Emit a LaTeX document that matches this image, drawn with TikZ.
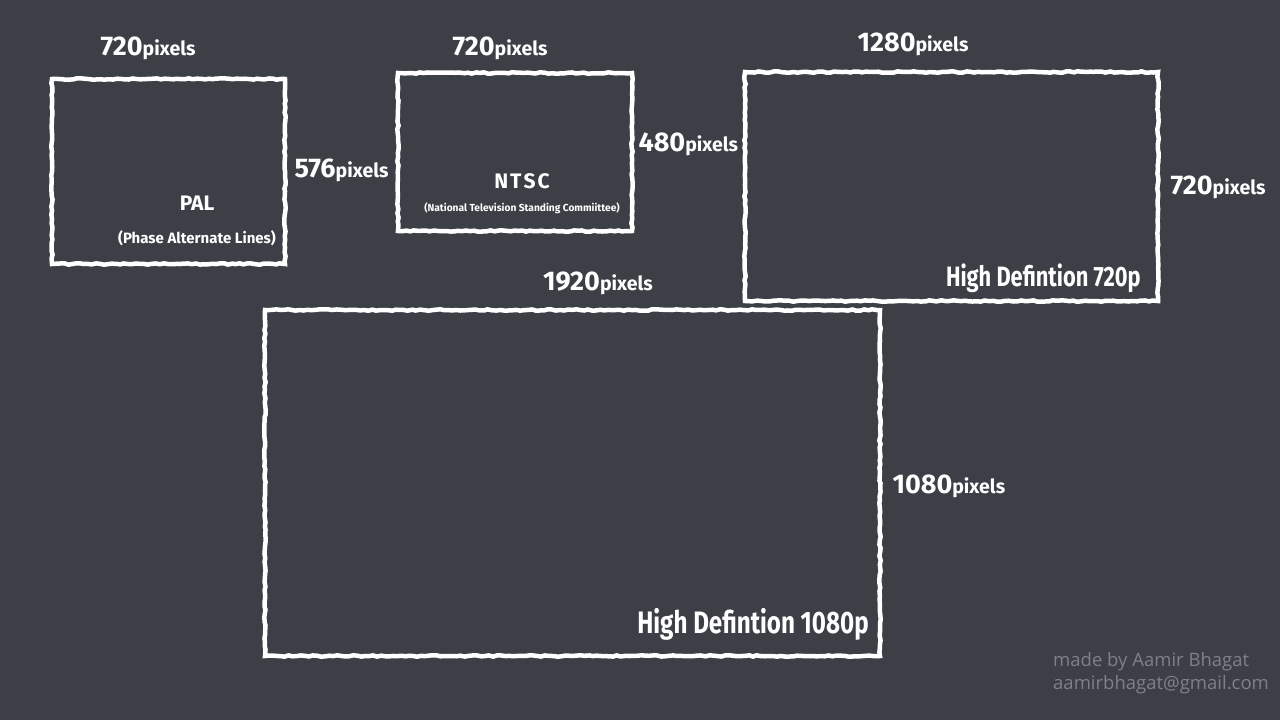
\documentclass[tikz,border=0pt]{standalone}
\usepackage{fontspec}
\setmainfont{Fira Sans}
\newfontfamily\chalk[FakeStretch=0.78]{Fira Sans}
\newfontfamily\chalkwide{Fira Sans}
\newfontfamily\credit{Open Sans}
\usetikzlibrary{positioning,decorations.pathmorphing}
\definecolor{board}{RGB}{60,64,70}
\definecolor{creditgray}{RGB}{126,130,136}
\newcommand{\pxl}[1]{#1{\fontsize{19.5}{21}\selectfont pixels}}

\begin{document}
\begin{tikzpicture}[x=1pt,y=-1pt,
        screen/.style={draw=white,line width=4.5pt,inner sep=0pt,
            decorate,decoration={random steps,segment length=4pt,amplitude=0.7pt}},
        dim/.style={text=white,font=\chalkwide\bfseries\fontsize{27}{29}\selectfont},
        stdname/.style={text=white,font=\chalkwide\bfseries\fontsize{21}{23}\selectfont},
        fullname/.style={text=white,font=\chalkwide\bfseries\fontsize{#1}{#1}\selectfont},
        hdlabel/.style={text=white,font=\chalk\bfseries\fontsize{#1}{#1}\selectfont},
        credit line/.style={text=creditgray,font=\credit\fontsize{18.5}{23}\selectfont,
            inner sep=0pt,align=left}]

    % Board
    \fill[board] (0,0) rectangle (1280,720);
    \useasboundingbox (0,0) rectangle (1280,720);

    % Screens
    \node[screen,minimum width=233pt,minimum height=185pt] (pal) at (168.5,171.5) {};
    \node[screen,minimum width=234pt,minimum height=158pt] (ntsc) at (515,152) {};
    \node[screen,minimum width=413pt,minimum height=229pt] (hdsmall) at (951.5,186.5) {};
    \node[screen,minimum width=615pt,minimum height=346pt] (hdlarge) at (572.5,483) {};

    % PAL
    \node[dim] (palw) at (148,48) {\pxl{720}};
    \node[dim,anchor=west] (palh) at (291,170) {\pxl{576}};
    \node[stdname] (palname) at (197,203) {PAL};
    \node[fullname=15] (palfull) at (197,238) {(Phase Alternate Lines)};

    % NTSC
    \node[dim] (ntscw) at (500,48) {\pxl{720}};
    \node[dim,anchor=west] (ntsch) at (635,144) {\pxl{480}};
    \node[stdname] (ntscname) at (522,181) {N\kern2pt T\kern2pt S\kern2pt C};
    \node[fullname=10.2] (ntscfull) at (522,208) {(National Television Standing Commiittee)};

    % HD 720p
    \node[dim] (hdsmallw) at (913,44) {\pxl{1280}};
    \node[dim,anchor=west] (hdsmallh) at (1167,187) {\pxl{720}};
    \node[hdlabel=28,anchor=south east] (hdsmalllabel) at ([xshift=-16pt,yshift=7pt]hdsmall.south east) {High Defintion 720p};

    % HD 1080p
    \node[dim] (hdlargew) at (598,283) {\pxl{1920}};
    \node[dim,anchor=west] (hdlargeh) at (889,486) {\pxl{1080}};
    \node[hdlabel=31,anchor=south east] (hdlargelabel) at ([xshift=-10pt,yshift=14pt]hdlarge.south east) {High Defintion 1080p};

    % Credit
    \node[credit line,anchor=north west] (credit) at (1053,652) {made by Aamir Bhagat\\aamirbhagat@gmail.com};
\end{tikzpicture}
\end{document}
